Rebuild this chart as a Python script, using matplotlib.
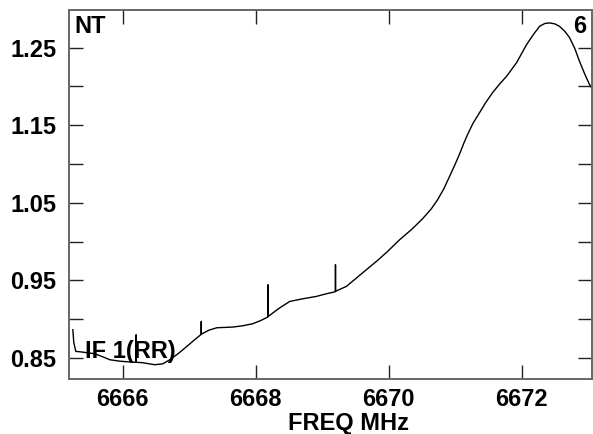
import numpy as np
import matplotlib
matplotlib.use("Agg")
import matplotlib.pyplot as plt

# spectrum trace (freq in MHz, amplitude)
freq = [6665.248, 6665.262, 6665.293, 6665.353, 6665.45, 6665.579, 6665.70, 6665.805,
        6665.95, 6666.10, 6666.199, 6666.200, 6666.201, 6666.30, 6666.40, 6666.481,
        6666.60, 6666.707, 6666.83, 6666.962, 6667.08, 6667.179, 6667.180, 6667.181,
        6667.30, 6667.414, 6667.654, 6667.80, 6667.955, 6668.08, 6668.184, 6668.185,
        6668.186, 6668.35, 6668.511, 6668.70, 6668.913, 6669.05, 6669.199, 6669.200,
        6669.201, 6669.364, 6669.50, 6669.665, 6669.83, 6669.985, 6670.165, 6670.35,
        6670.511, 6670.64, 6670.737, 6670.83, 6670.917, 6671.00, 6671.068, 6671.13,
        6671.188, 6671.27, 6671.368, 6671.46, 6671.564, 6671.67, 6671.774, 6671.925,
        6672.075, 6672.18, 6672.271, 6672.35, 6672.421, 6672.50, 6672.571, 6672.65,
        6672.722, 6672.80, 6672.872, 6672.95, 6673.023, 6673.053]
amp = [0.8865, 0.870, 0.8585, 0.8581, 0.8570, 0.8555, 0.8515, 0.8478,
       0.8460, 0.8450, 0.8445, 0.8800, 0.8445, 0.8440, 0.8425, 0.8414,
       0.8425, 0.8478, 0.8555, 0.8649, 0.8735, 0.8805, 0.8972, 0.8808,
       0.8860, 0.8890, 0.8899, 0.8915, 0.8942, 0.8985, 0.9030, 0.9445,
       0.9035, 0.9140, 0.9229, 0.9262, 0.9294, 0.9325, 0.9355, 0.9702,
       0.9360, 0.9423, 0.9520, 0.9638, 0.9755, 0.9874, 1.0024, 1.0160,
       1.0295, 1.0420, 1.0540, 1.0680, 1.0840, 1.0995, 1.1130, 1.1265,
       1.1380, 1.1525, 1.1661, 1.1790, 1.1919, 1.2030, 1.2129, 1.2305,
       1.2537, 1.2670, 1.2773, 1.2810, 1.2817, 1.2805, 1.2773, 1.2710,
       1.2628, 1.2490, 1.2322, 1.2160, 1.2022, 1.1983]

xticks = [6666, 6668, 6670, 6672]
yticks = [0.85, 0.95, 1.05, 1.15, 1.25]
yminor = [0.90, 1.00, 1.10, 1.20]

plt.rcParams['font.family'] = ['Liberation Sans', 'DejaVu Sans']
plt.rcParams['font.weight'] = 'bold'

fig = plt.figure(figsize=(5.93, 4.34), dpi=100)
ax = fig.add_axes([69 / 593, 1 - 379 / 434, (592 - 69) / 593, (379 - 9.5) / 434])

ax.plot(freq, amp, color='black', lw=1.0)

ax.set_xlim(6665.19, 6673.06)
ax.set_ylim(0.823, 1.299)

ax.set_xticks(xticks)
ax.set_xticklabels([str(t) for t in xticks])
ax.set_yticks(yticks)
ax.set_yticklabels(['%.2f' % t for t in yticks])
ax.set_yticks(yminor, minor=True)

ax.tick_params(axis='both', which='both', direction='in', length=10, width=1,
               color='#222222', labelsize=17, top=True, right=True)
ax.tick_params(axis='x', pad=6.5)
ax.tick_params(axis='y', pad=9)
for lab in ax.get_xticklabels() + ax.get_yticklabels():
    lab.set_fontweight('bold')

for sp in ax.spines.values():
    sp.set_color('#666666')
    sp.set_linewidth(1.4)

ax.set_xlabel('FREQ MHz', fontsize=17, fontweight='bold', labelpad=0)
ax.xaxis.set_label_coords((349 - 69) / (592 - 69), -0.09)

ax.text(0.011, 0.985, 'NT', transform=ax.transAxes, fontsize=17,
        fontweight='bold', ha='left', va='top')
ax.text(0.989, 0.985, '6', transform=ax.transAxes, fontsize=17,
        fontweight='bold', ha='right', va='top')
ax.text(0.030, 0.058, 'IF 1(RR)', transform=ax.transAxes, fontsize=17,
        fontweight='bold', ha='left', va='baseline')

fig.savefig('out.png', dpi=100)
